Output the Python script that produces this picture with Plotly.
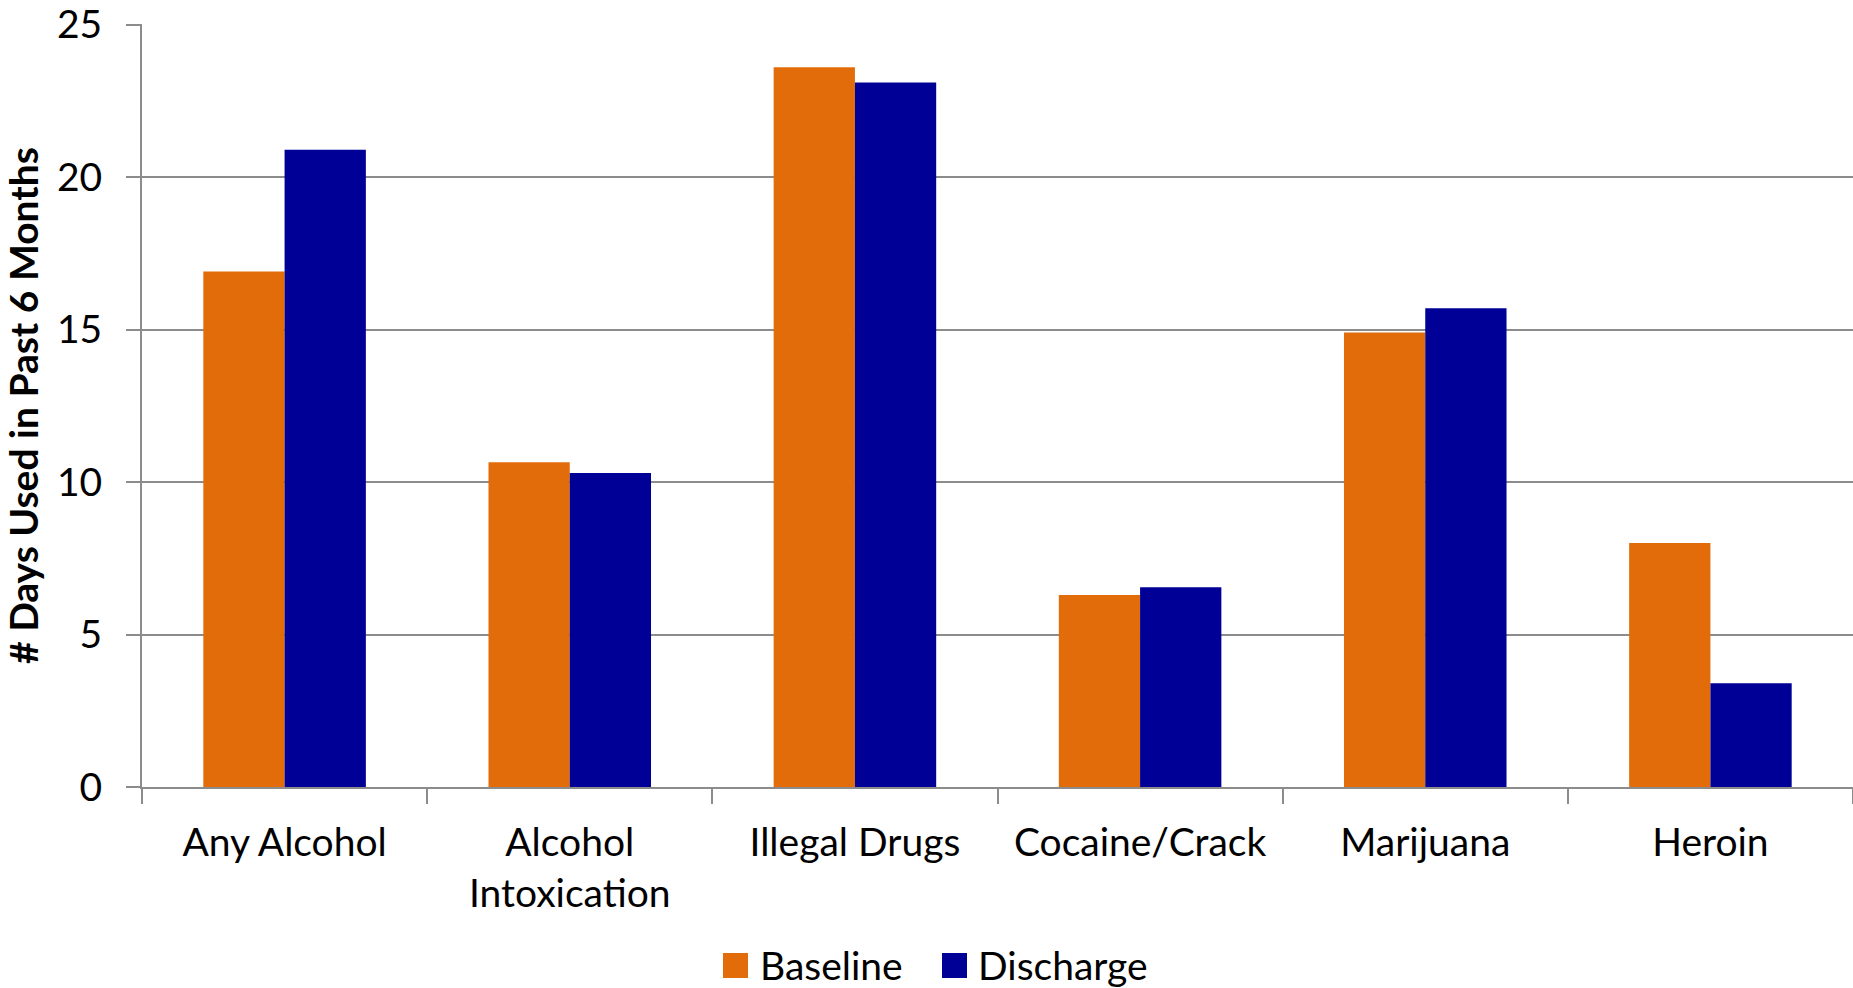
import plotly.graph_objects as go

categories = ["Any Alcohol", "Alcohol<br>Intoxication", "Illegal Drugs", "Cocaine/Crack", "Marijuana", "Heroin"]
series_names = ["Baseline", "Discharge"]
baseline = [16.9, 10.65, 23.6, 6.3, 14.9, 8.0]
discharge = [20.9, 10.3, 23.1, 6.55, 15.7, 3.4]
y_ticks = [0, 5, 10, 15, 20, 25]

FONT = "Lato"
GRID = "#8c8c8c"
COLORS = ["#E36C0A", "#000096"]

fig = go.Figure()
for name, vals, col in zip(series_names, [baseline, discharge], COLORS):
    fig.add_trace(go.Bar(name=name, x=categories, y=vals, showlegend=False,
                         marker=dict(color=col, line=dict(width=0))))

# custom legend (large squares like the reference)
L = 142
PW = 1853 - L
B = 787
PH = B - 24
def px_x(v):
    return (v - L) / PW
def px_y(v):
    return (B - v) / PH

legend_sq_x = [723, 942]
legend_txt_x = [758, 976]
LEG_Y = 965
for name, col, sx, tx in zip(series_names, COLORS, legend_sq_x, legend_txt_x):
    fig.add_shape(type="rect", xref="paper", yref="paper",
                  x0=px_x(sx), x1=px_x(sx + 25), y0=px_y(LEG_Y + 13), y1=px_y(LEG_Y - 12),
                  fillcolor=col, line=dict(width=0))
    fig.add_annotation(text=name, xref="paper", yref="paper", x=px_x(tx), y=px_y(LEG_Y),
                       xanchor="left", yanchor="middle", showarrow=False,
                       font=dict(size=39, family=FONT, color="black"))

fig.update_layout(
    width=1853, height=988,
    paper_bgcolor="white", plot_bgcolor="white",
    barmode="group", bargap=0.43, bargroupgap=0,
    margin=dict(l=L, r=0, t=24, b=988 - B, autoexpand=False),
    font=dict(family=FONT, size=39, color="black"),
    showlegend=False,
    xaxis=dict(showline=True, linecolor=GRID, linewidth=2,
               ticks="outside", tickson="boundaries", ticklen=15,
               tickcolor=GRID, tickwidth=2, showgrid=False,
               tickfont=dict(size=39), ticklabelstandoff=20),
    yaxis=dict(range=[0, 25.02], tickvals=y_ticks, showline=True, linecolor=GRID,
               linewidth=2, ticks="outside", ticklen=14, tickcolor=GRID,
               tickwidth=2, showgrid=True, gridcolor=GRID, gridwidth=2,
               zeroline=False, tickfont=dict(size=39), ticklabelstandoff=16,
               title=dict(text="<b># Days Used in Past 6 Months</b>",
                          font=dict(size=39), standoff=18)),
)

fig.write_html("out.html", post_script="document.body.style.margin='0';",
               config={"displayModeBar": False})
